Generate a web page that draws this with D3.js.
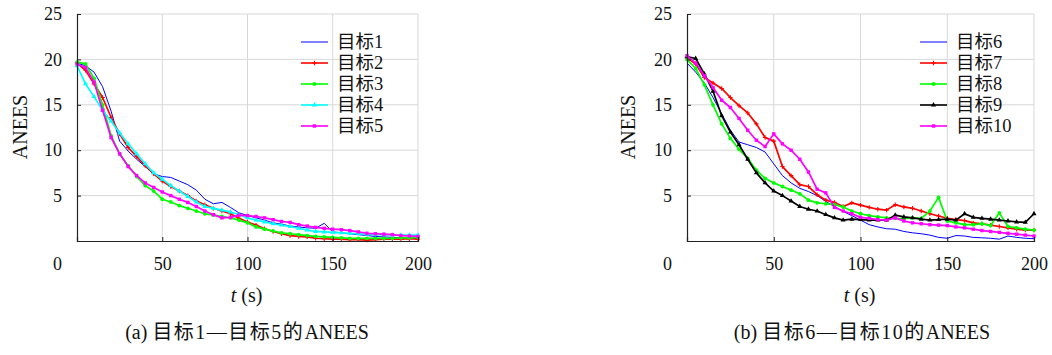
<!DOCTYPE html>
<html lang="zh">
<head>
<meta charset="UTF-8">
<title>ANEES</title>
<script src="https://cdn.jsdelivr.net/npm/d3@7/dist/d3.min.js"></script>
<style>
    body { margin: 0; background: #fff; }
    svg { display: block; }
    text { font-family: "Liberation Serif", "Noto Sans CJK SC", serif; fill: #111; }
</style>
</head>
<body>
<svg width="1052" height="355"></svg>
<script>
// time samples (s)
const times = d3.range(0, 201, 5);
const xTicks = [0, 50, 100, 150, 200];
const yTicks = [5, 10, 15, 20, 25];

// panel (a)
const target1 = [19.6, 19.3, 18.6, 17.0, 14.3, 11.0, 9.9, 9.0, 8.2, 7.4, 7.1, 7.0, 6.6, 6.2, 5.6, 4.6, 4.1, 4.25, 3.7, 3.1, 2.8,
    2.55, 2.3, 2.0, 1.85, 1.65, 1.55, 1.45, 1.4, 1.95, 1.0, 0.9, 0.8, 0.7, 0.6, 0.5, 0.45, 0.4, 0.35, 0.3, 0.3];
const target2 = [19.6, 18.8, 17.3, 15.8, 13.6, 11.8, 10.3, 9.3, 8.3, 7.4, 6.6, 6.0, 5.5, 5.0, 4.4, 4.0, 3.6, 3.3, 3.0, 2.5, 2.1,
    1.75, 1.35, 1.05, 0.8, 0.6, 0.5, 0.45, 0.3, 0.25, 0.2, 0.2, 0.15, 0.15, 0.1, 0.15, 0.2, 0.2, 0.2, 0.25, 0.2];
const target3 = [19.7, 19.5, 17.9, 15.0, 11.6, 9.6, 8.3, 7.1, 6.1, 5.5, 4.6, 4.3, 3.9, 3.6, 3.3, 3.0, 2.85, 2.7, 2.55, 2.3, 2.0,
    1.55, 1.3, 1.1, 0.9, 0.8, 0.7, 0.6, 0.5, 0.45, 0.4, 0.35, 0.3, 0.3, 0.3, 0.3, 0.3, 0.3, 0.35, 0.35, 0.4];
const target4 = [19.3, 17.3, 15.9, 14.4, 13.2, 11.9, 10.7, 9.6, 8.5, 7.5, 6.8, 6.1, 5.5, 4.9, 4.3, 3.8, 3.6, 3.4, 3.2, 2.9, 2.55,
    2.3, 2.1, 1.9, 1.75, 1.6, 1.4, 1.2, 1.05, 1.0, 0.95, 0.9, 0.85, 0.8, 0.75, 0.7, 0.7, 0.65, 0.65, 0.65, 0.65];
const target5 = [19.5, 19.1, 17.5, 14.4, 11.4, 9.6, 8.2, 7.2, 6.4, 5.9, 5.4, 5.0, 4.6, 4.25, 3.8, 3.3, 2.9, 2.55, 2.6, 2.85, 2.8,
    2.7, 2.55, 2.35, 2.15, 2.05, 1.8, 1.65, 1.5, 1.4, 1.3, 1.25, 1.15, 1.0, 0.85, 0.8, 0.75, 0.7, 0.6, 0.55, 0.5];

// panel (b)
const target6 = [19.6, 18.6, 17.4, 15.8, 14.0, 12.2, 10.9, 10.6, 10.3, 9.8, 8.5, 7.2, 6.4, 5.8, 5.45, 5.0, 4.35, 3.8, 3.25, 2.8, 2.3,
    1.8, 1.55, 1.35, 1.3, 1.05, 0.9, 0.8, 0.65, 0.4, 0.3, 0.6, 0.55, 0.4, 0.35, 0.3, 0.2, 0.55, 0.4, 0.3, 0.25];
const target7 = [20.2, 19.5, 18.0, 17.4, 16.8, 15.8, 14.9, 14.1, 12.9, 11.4, 11.0, 8.2, 7.2, 6.2, 6.0, 5.1, 4.5, 4.25, 3.8, 4.2, 3.95,
    3.7, 3.5, 3.4, 4.0, 3.75, 3.6, 3.3, 3.0, 2.75, 2.5, 2.35, 2.25, 2.0, 1.9, 1.75, 1.6, 1.45, 1.3, 1.2, 1.2];
const target8 = [20.0, 19.0, 17.2, 15.0, 12.9, 11.3, 10.1, 9.1, 7.8, 6.9, 6.4, 6.0, 5.6, 5.2, 4.5, 4.2, 4.1, 4.0, 3.75, 3.3, 3.0,
    2.8, 2.65, 2.55, 2.5, 2.45, 2.55, 2.5, 3.3, 4.8, 2.2, 2.0, 1.8, 1.8, 1.9, 1.7, 3.1, 1.6, 1.45, 1.3, 1.2];
const target9 = [20.3, 20.1, 18.4, 16.5, 13.8, 12.0, 10.6, 9.0, 7.5, 6.4, 5.5, 5.0, 4.4, 3.8, 3.5, 3.3, 2.9, 2.55, 2.3, 2.4, 2.35,
    2.3, 2.3, 2.3, 2.85, 2.65, 2.55, 2.4, 2.3, 2.35, 2.4, 2.3, 3.0, 2.6, 2.5, 2.4, 2.3, 2.2, 2.1, 2.05, 3.0];
const target10 = [20.4, 19.6, 18.2, 16.9, 15.5, 14.7, 13.5, 12.2, 11.1, 10.4, 11.8, 10.7, 10.0, 9.0, 7.6, 5.7, 5.3, 3.7, 3.3, 3.0, 2.6,
    2.5, 2.35, 2.3, 2.55, 2.2, 2.0, 1.9, 1.8, 1.75, 1.7, 1.55, 1.45, 1.3, 1.15, 1.05, 0.95, 0.85, 0.75, 0.65, 0.55];

const namesA = ["目标1", "目标2", "目标3", "目标4", "目标5"];
const namesB = ["目标6", "目标7", "目标8", "目标9", "目标10"];
const colorsA = ["#0000ff", "#ff0000", "#00ff00", "#00ffff", "#ff00ff"];
const colorsB = ["#0000ff", "#ff0000", "#00ff00", "#000000", "#ff00ff"];
const markersA = ["none", "plus", "dot", "triangle", "square"];
const markersB = ["none", "plus", "dot", "triangle", "square"];

const svg = d3.select("svg");

// draw one marker shape into a selection
function addMarker(sel, kind, color) {
    if (kind === "plus") {
        sel.append("path").attr("d", "M-2.2,0H2.2M0,-2.2V2.2")
            .attr("stroke", color).attr("stroke-width", 1.1);
    } else if (kind === "dot") {
        sel.append("circle").attr("r", 1.9).attr("fill", color);
    } else if (kind === "triangle") {
        sel.append("path").attr("d", d3.symbol(d3.symbolTriangle, 11)()).attr("fill", color);
    } else if (kind === "square") {
        sel.append("rect").attr("x", -1.7).attr("y", -1.7).attr("width", 3.4).attr("height", 3.4).attr("fill", color);
    }
}

function drawPanel(opts) {
    const x = d3.scaleLinear().domain([0, 200]).range([opts.left, opts.right]);
    const y = d3.scaleLinear().domain([0, 25]).range([241, 14]);
    const g = svg.append("g");

    // grid
    g.append("g").selectAll("line").data(xTicks.slice(1)).join("line")
        .attr("x1", d => x(d)).attr("x2", d => x(d)).attr("y1", y(0)).attr("y2", y(25))
        .attr("stroke", "#d8d8d8").attr("stroke-width", 1);
    g.append("g").selectAll("line").data(yTicks).join("line")
        .attr("x1", x(0)).attr("x2", x(200)).attr("y1", d => y(d)).attr("y2", d => y(d))
        .attr("stroke", "#d8d8d8").attr("stroke-width", 1);

    // series
    opts.series.forEach((vals, i) => {
        const pts = times.map((t, k) => [t, vals[k]]);
        const line = d3.line().x(d => x(d[0])).y(d => y(d[1]));
        const col = opts.colors[i];
        const kind = opts.markers[i];
        g.append("path").datum(pts).attr("d", line)
            .attr("fill", "none").attr("stroke", col)
            .attr("stroke-width", kind === "none" ? 1 : 1.7)
            .attr("stroke-linejoin", "round");
        if (kind !== "none") {
            const m = g.append("g").selectAll("g").data(pts).join("g")
                .attr("transform", d => `translate(${x(d[0])},${y(d[1])})`);
            addMarker(m, kind, col);
        }
    });

    // axes
    const xAxis = d3.axisBottom(x).tickValues(xTicks).tickSize(-4).tickPadding(16);
    const ax = g.append("g").attr("transform", `translate(0,${y(0)})`).call(xAxis);
    const yAxis = d3.axisLeft(y).tickValues(yTicks).tickSize(-4).tickPadding(15);
    const ay = g.append("g").attr("transform", `translate(${x(0)},0)`).call(yAxis);
    [ax, ay].forEach(a => {
        a.select(".domain").attr("stroke", "#222").attr("stroke-width", 1.2);
        a.selectAll(".tick line").attr("stroke", "#222");
        a.selectAll(".tick text").attr("font-size", 18).attr("fill", "#111")
            .attr("font-family", "Liberation Serif, serif");
    });
    ax.selectAll(".tick text").filter(d => d === 0).attr("dx", -20);

    // labels
    g.append("text").attr("transform", `translate(${opts.left - opts.labelOff},127) rotate(-90)`)
        .attr("text-anchor", "middle").attr("dy", "0.35em").attr("font-size", 20).text("ANEES");
    const tl = g.append("text").attr("x", (opts.left + opts.right) / 2 - 1).attr("y", 302)
        .attr("text-anchor", "middle").attr("font-size", 20);
    tl.append("tspan").attr("font-style", "italic").text("t");
    tl.append("tspan").text(" (s)");
    const cap = g.append("text").attr("x", opts.capX).attr("y", 339)
        .attr("text-anchor", "middle").attr("font-size", 20);
    cap.append("tspan").text(opts.caption[0]);
    cap.append("tspan").attr("letter-spacing", 1.5).text(opts.caption[1]);
    cap.append("tspan").text(opts.caption[2]);

    // legend
    const lg = g.append("g").selectAll("g").data(opts.names).join("g")
        .attr("transform", (d, i) => `translate(${opts.legX},${42 + i * 21})`);
    lg.append("line").attr("x1", 0).attr("x2", 27)
        .attr("stroke", (d, i) => opts.colors[i])
        .attr("stroke-width", (d, i) => opts.markers[i] === "none" ? 1 : 1.6);
    lg.each(function (d, i) {
        const mk = d3.select(this).append("g").attr("transform", "translate(13.5,0)");
        addMarker(mk, opts.markers[i], opts.colors[i]);
    });
    lg.append("text").attr("x", 36).attr("dy", "0.35em").attr("font-size", 18.5).text(d => d);
}

drawPanel({
    left: 77, right: 418, legX: 301, capX: 247, labelOff: 57,
    series: [target1, target2, target3, target4, target5],
    names: namesA, colors: colorsA, markers: markersA,
    caption: ["(a) ", "目标1—目标5的", "ANEES"]
});
drawPanel({
    left: 687, right: 1034, legX: 920, capX: 862, labelOff: 59,
    series: [target6, target7, target8, target9, target10],
    names: namesB, colors: colorsB, markers: markersB,
    caption: ["(b) ", "目标6—目标10的", "ANEES"]
});
</script>
</body>
</html>
